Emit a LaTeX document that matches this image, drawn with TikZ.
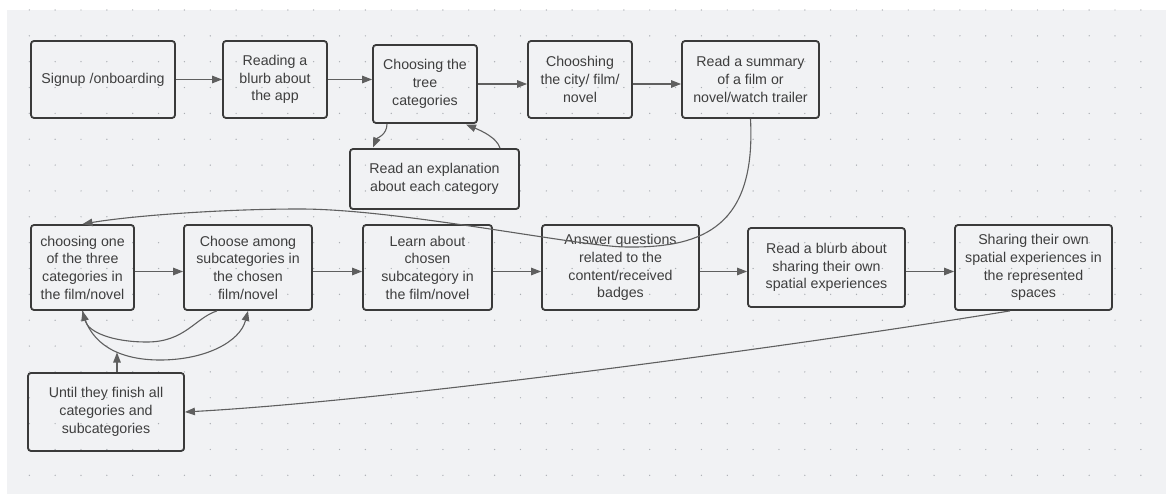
\documentclass[tikz,border=0pt]{standalone}
\usepackage{fontspec}
\setmainfont{Liberation Sans}
\usetikzlibrary{arrows.meta}
\definecolor{bgc}{RGB}{241,242,244}
\definecolor{dotc}{RGB}{170,173,178}
\definecolor{boxc}{RGB}{58,58,58}
\definecolor{linec}{RGB}{95,95,95}
\definecolor{txtc}{RGB}{62,62,62}
\begin{document}
\begin{tikzpicture}[x=1pt,y=-1pt,
  box/.style={draw=boxc, line width=1.8pt, rounded corners=3pt, inner sep=0pt,
    align=center, text=txtc, font=\fontsize{14.2}{17.7}\selectfont},
  arr/.style={draw=linec, line width=1.2pt, -{Triangle[length=10pt,width=7.5pt]}},
  curv/.style={draw=linec, line width=1.1pt, -{Triangle[length=10pt,width=7.5pt]}}]
\useasboundingbox (0,0) rectangle (1166,494);
\fill[white] (0,0) rectangle (1166,494);
\fill[bgc] (7,10) rectangle (1166,494);
\foreach \i in {0,...,43} {
  \foreach \j in {0,...,18} {
    \fill[dotc] ({29.3+25.85*\i},{10+25.85*\j}) circle (0.7pt);
  }
}
% row 1
\node[box, minimum width=144pt, minimum height=77pt] (s1) at (103,79.5) {Signup /onboarding};
\node[box, minimum width=104pt, minimum height=77pt] (s2) at (275,79.5) {Reading a\\blurb about\\the app};
\node[box, minimum width=104pt, minimum height=78pt] (s3) at (425,84) {Choosing the\\tree\\categories};
\node[box, minimum width=104pt, minimum height=77pt] (s4) at (580,79.5) {Chooshing\\the city/ film/\\novel};
\node[box, minimum width=137pt, minimum height=77pt] (s5) at (750.5,79.5) {Read a summary\\of a film or\\novel/watch trailer};
\node[box, minimum width=169pt, minimum height=60pt] (s6) at (434.5,179) {Read an explanation\\about each category};
% row 2
\node[box, minimum width=103pt, minimum height=85pt] (r1) at (82.5,267.5) {choosing one\\of the three\\categories in\\the film/novel};
\node[box, minimum width=128pt, minimum height=85pt] (r2) at (248,267.5) {Choose among\\subcategories in\\the chosen\\film/novel};
\node[box, minimum width=129pt, minimum height=85pt] (r3) at (427.5,267.5) {Learn about\\chosen\\subcategory in\\the film/novel};
\node[box, minimum width=157pt, minimum height=85pt] (r4) at (620.5,267.5) {Answer questions\\related to the\\content/received\\badges};
\node[box, minimum width=157pt, minimum height=79pt] (r5) at (826.5,267.5) {Read a blurb about\\sharing their own\\spatial experiences};
\node[box, minimum width=157pt, minimum height=85pt] (r6) at (1033.5,267.5) {Sharing their own\\spatial experiences in\\the represented\\spaces};
\node[box, minimum width=156pt, minimum height=78pt] (u) at (106,412) {Until they finish all\\categories and\\subcategories};
% straight arrows
\draw[arr] (s1.east) -- (s2.west);
\draw[arr] (s2.east) -- (s2.east -| s3.west);
\draw[arr] (s3.east) -- (s3.east -| s4.west);
\draw[arr] (s4.east |- s3.east) -- (s3.east -| s5.west);
\draw[arr] ([yshift=-4pt]r1.east) -- ([yshift=-4pt]r2.west);
\draw[arr] ([yshift=-4pt]r2.east) -- ([yshift=-4pt]r3.west);
\draw[arr] ([yshift=-4pt]r3.east) -- ([yshift=-4pt]r4.west);
\draw[arr] ([yshift=-4pt]r4.east) -- ([yshift=-4pt]r5.west);
\draw[arr] ([yshift=-4pt]r5.east) -- ([yshift=-4pt]r6.west);
% curved connectors
\draw[curv] (s3.south -| 387,0) .. controls (387,135) and (377,138) .. (373,147.5);
\draw[curv] (s6.north -| 500,0) .. controls (497,138) and (482,131) .. (466,124.5);
\draw[curv] (s5.south) .. controls (756,225) and (705,248) .. (627,247)
  .. controls (580,247) and (400,209) .. (300,209)
  .. controls (220,209) and (130,216) .. (r1.north);
\draw[curv] (r2.south -| 217,0) .. controls (195,318) and (185,342) .. (147,342)
  .. controls (112,342) and (88,332) .. (r1.south);
\draw[curv] (r1.south) .. controls (90,345) and (120,360) .. (160,360)
  .. controls (205,360) and (240,342) .. (r2.south);
\coordinate (uj) at (117,352.5);
\draw[arr] (u.north -| uj) -- (uj);
\draw[curv] (r6.south -| 1010,0) .. controls (800,345) and (400,400) .. (u.east);
\end{tikzpicture}
\end{document}
